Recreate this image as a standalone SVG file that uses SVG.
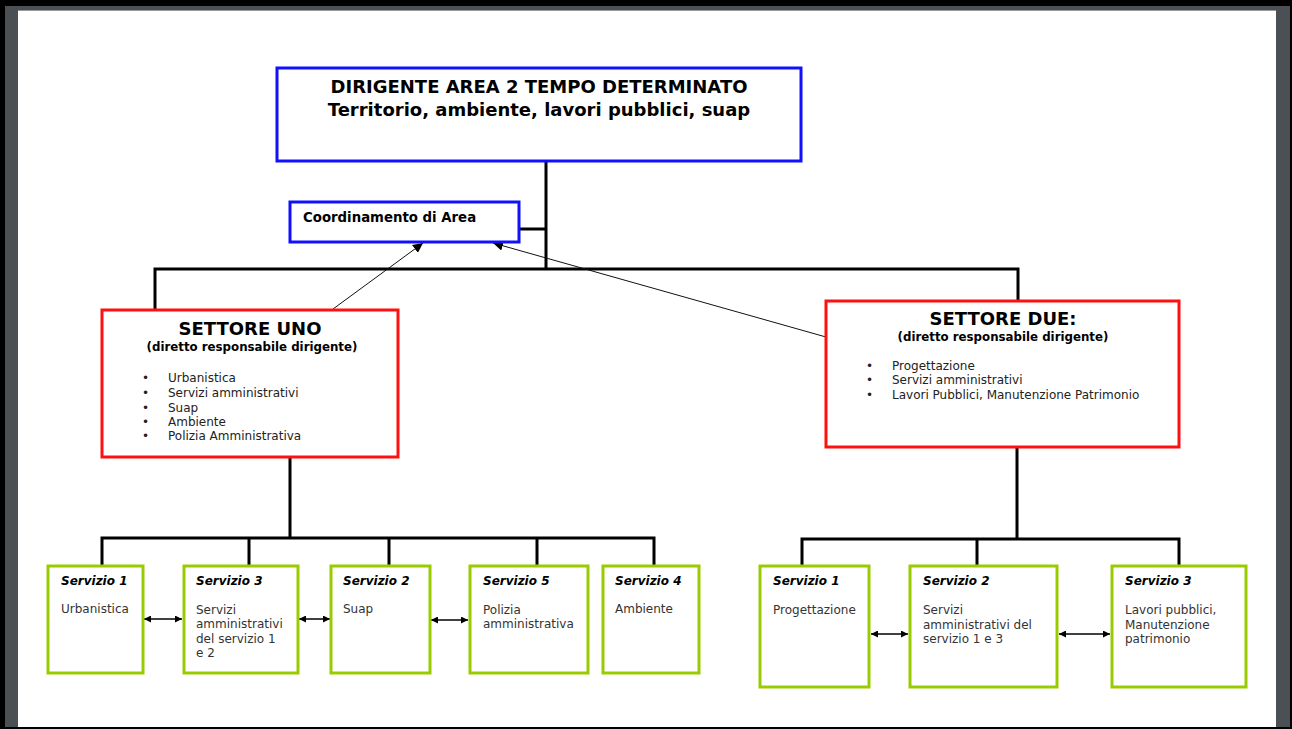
<svg xmlns="http://www.w3.org/2000/svg" width="1292" height="729" viewBox="0 0 1292 729">
<defs>
<style>
text{font-family:"DejaVu Sans","Liberation Sans",sans-serif;}
.blue{fill:#fff;stroke:#1010ff;stroke-width:3}
.red{fill:#fff;stroke:#ff1010;stroke-width:3}
.green{fill:#fff;stroke:#99cc00;stroke-width:3}
.conn{fill:none;stroke:#000;stroke-width:3}
.thin{fill:none;stroke:#111;stroke-width:1}
.dbl{fill:none;stroke:#000;stroke-width:1.5;marker-start:url(#ah);marker-end:url(#ah)}
.h1{font-size:18px;font-weight:bold;fill:#000;text-anchor:middle}
.h2{font-size:18px;font-weight:bold;fill:#000;text-anchor:middle}
.sub{font-size:11.8px;font-weight:bold;fill:#000;text-anchor:middle}
.li{font-size:12px;fill:#222}
.st{font-size:12px;font-weight:bold;font-style:italic;fill:#000}
.bd{font-size:12px;fill:#333}
</style>
<marker id="ah" viewBox="0 0 10 10" refX="10" refY="5" markerWidth="7" markerHeight="7" markerUnits="userSpaceOnUse" orient="auto-start-reverse">
<path d="M0,0 L10,5 L0,10 z" fill="#000"/>
</marker>
<marker id="ta" viewBox="0 0 10 10" refX="10" refY="5" markerWidth="10" markerHeight="10" markerUnits="userSpaceOnUse" orient="auto">
<path d="M0,0 L10,5 L0,10 z" fill="#000"/>
</marker>
</defs>
<rect x="0" y="0" width="1292" height="729" fill="#000"/>
<rect x="5" y="6" width="1285" height="721" fill="#4b5055"/>
<rect x="18" y="10" width="1258" height="717" fill="#fff"/>
<line x1="18" y1="10.5" x2="1276" y2="10.5" stroke="#9a9a9a" stroke-width="1"/>

<g id="connectors">
<path class="conn" d="M546,162 V269 M519,229 H546 M155,309 V269 H1018 V300"/>
<path class="conn" d="M290,458 V538 M102,565 V538 H654 V565 M249,538 V565 M389,538 V565 M537,538 V565"/>
<path class="conn" d="M1017,448 V539 M802,565 V539 H1179 V565 M977,539 V565"/>
<line class="thin" x1="333" y1="309" x2="423" y2="243" marker-end="url(#ta)"/>
<line class="thin" x1="826" y1="337" x2="493" y2="243" marker-end="url(#ta)"/>
<line class="dbl" x1="144" y1="619" x2="182" y2="619"/>
<line class="dbl" x1="299" y1="619" x2="330" y2="619"/>
<line class="dbl" x1="431" y1="620" x2="468" y2="620"/>
<line class="dbl" x1="871" y1="634" x2="908" y2="634"/>
<line class="dbl" x1="1059" y1="634" x2="1110" y2="634"/>
</g>

<g id="dirigente">
<rect class="blue" x="277" y="68" width="524" height="93"/>
<text class="h1" x="539" y="93">DIRIGENTE AREA 2 TEMPO DETERMINATO</text>
<text class="h1" x="539" y="116">Territorio, ambiente, lavori pubblici, suap</text>
</g>

<g id="coordinamento">
<rect class="blue" x="290" y="202" width="229" height="40"/>
<text x="303" y="222" style="font-size:13.3px;font-weight:bold;fill:#000">Coordinamento di Area</text>
</g>

<g id="settore-uno">
<rect class="red" x="102" y="310" width="296" height="147"/>
<text class="h2" x="250" y="335">SETTORE UNO</text>
<text class="sub" x="252" y="351">(diretto responsabile dirigente)</text>
<g class="li">
<text x="142" y="382">•</text><text x="168" y="382">Urbanistica</text>
<text x="142" y="397">•</text><text x="168" y="397">Servizi amministrativi</text>
<text x="142" y="412">•</text><text x="168" y="412">Suap</text>
<text x="142" y="426">•</text><text x="168" y="426">Ambiente</text>
<text x="142" y="440">•</text><text x="168" y="440">Polizia Amministrativa</text>
</g>
</g>

<g id="settore-due">
<rect class="red" x="826" y="301" width="353" height="146"/>
<text class="h2" x="1003" y="325">SETTORE DUE:</text>
<text class="sub" x="1003" y="341">(diretto responsabile dirigente)</text>
<g class="li">
<text x="866" y="370">•</text><text x="892" y="370">Progettazione</text>
<text x="866" y="384">•</text><text x="892" y="384">Servizi amministrativi</text>
<text x="866" y="399">•</text><text x="892" y="399">Lavori Pubblici, Manutenzione Patrimonio</text>
</g>
</g>

<g id="s1-servizio1">
<rect class="green" x="48" y="566" width="95" height="107"/>
<text class="st" x="61" y="585">Servizio 1</text>
<text class="bd" x="61" y="613">Urbanistica</text>
</g>
<g id="s1-servizio3">
<rect class="green" x="184" y="566" width="114" height="107"/>
<text class="st" x="196" y="585">Servizio 3</text>
<text class="bd" x="196" y="614">Servizi</text>
<text class="bd" x="196" y="628">amministrativi</text>
<text class="bd" x="196" y="643">del servizio 1</text>
<text class="bd" x="196" y="657">e 2</text>
</g>
<g id="s1-servizio2">
<rect class="green" x="331" y="566" width="99" height="107"/>
<text class="st" x="343" y="585">Servizio 2</text>
<text class="bd" x="343" y="613">Suap</text>
</g>
<g id="s1-servizio5">
<rect class="green" x="470" y="566" width="118" height="107"/>
<text class="st" x="483" y="585">Servizio 5</text>
<text class="bd" x="483" y="614">Polizia</text>
<text class="bd" x="483" y="628">amministrativa</text>
</g>
<g id="s1-servizio4">
<rect class="green" x="603" y="566" width="96" height="107"/>
<text class="st" x="615" y="585">Servizio 4</text>
<text class="bd" x="615" y="613">Ambiente</text>
</g>

<g id="s2-servizio1">
<rect class="green" x="760" y="566" width="109" height="121"/>
<text class="st" x="773" y="585">Servizio 1</text>
<text class="bd" x="773" y="614">Progettazione</text>
</g>
<g id="s2-servizio2">
<rect class="green" x="910" y="566" width="147" height="121"/>
<text class="st" x="923" y="585">Servizio 2</text>
<text class="bd" x="923" y="614">Servizi</text>
<text class="bd" x="923" y="629">amministrativi del</text>
<text class="bd" x="923" y="643">servizio 1 e 3</text>
</g>
<g id="s2-servizio3">
<rect class="green" x="1112" y="566" width="134" height="121"/>
<text class="st" x="1125" y="585">Servizio 3</text>
<text class="bd" x="1125" y="614">Lavori pubblici,</text>
<text class="bd" x="1125" y="629">Manutenzione</text>
<text class="bd" x="1125" y="643">patrimonio</text>
</g>
</svg>
